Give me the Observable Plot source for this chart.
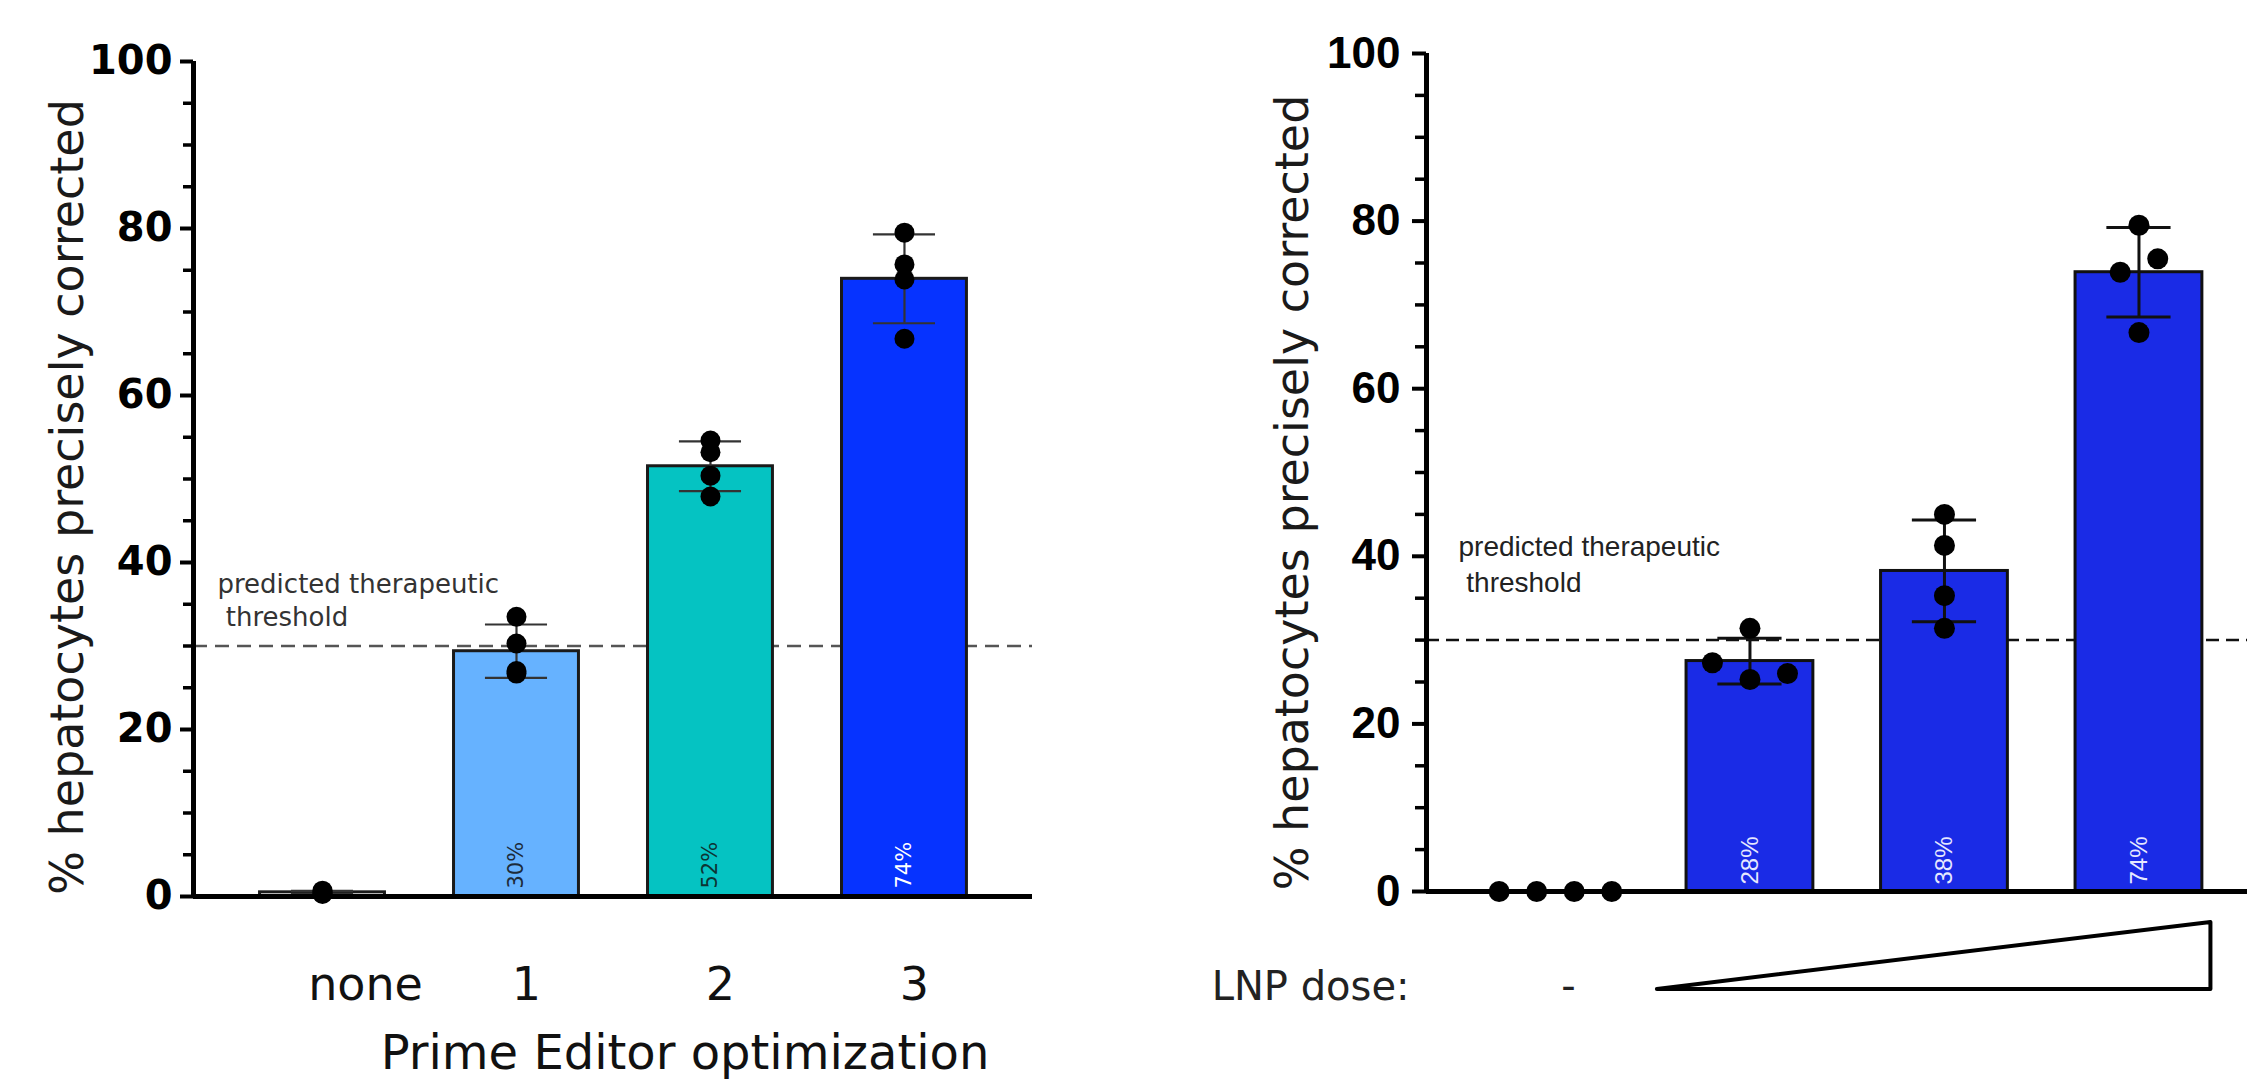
<!DOCTYPE html>
<html><head><meta charset="utf-8">
<script src="https://cdn.jsdelivr.net/npm/d3@7"></script>
<script src="https://cdn.jsdelivr.net/npm/@observablehq/plot@0.6"></script>
<style>
html,body{margin:0;padding:0;background:#fff;}
#wrap{position:relative;width:2247px;height:1079px;overflow:hidden;background:#fff;}
#left{position:absolute;left:0;top:0;}
#right{position:absolute;left:1100px;top:0;}
svg{overflow:visible;}
</style></head><body>
<div id="wrap"><div id="left"></div><div id="right"></div></div>
<script>
// ---------- data ----------
const leftGroups = ["none", "1", "2", "3"];
const leftReplicates = [
  [0.3, 0.6, 0.7, 0.4],
  [33.5, 30.3, 27.0, 26.7],
  [54.6, 53.2, 50.4, 47.9],
  [79.5, 75.7, 73.9, 66.8]
];
const leftBarLabels = [null, "30%", "52%", "74%"];
const leftTitleX = "Prime Editor optimization";

const rightGroups = ["-", "low", "mid", "high"];
const rightReplicates = [
  [0, 0, 0, 0],
  [27.3, 31.4, 25.3, 26.0],
  [45.0, 41.3, 35.3, 31.4],
  [79.5, 73.9, 75.5, 66.7]
];
const rightBarLabels = [null, "28%", "38%", "74%"];
const rightDoseLabel = "LNP dose:";

const yTitle = "% hepatocytes precisely corrected";
const thresholdValue = 30;
const thresholdText = "predicted therapeutic\n\u00a0threshold";
const yMajorTicks = [0, 20, 40, 60, 80, 100];
const yMinorTicks = [5, 10, 15, 25, 30, 35, 45, 50, 55, 65, 70, 75, 85, 90, 95];

// ---------- helpers ----------
function buildRows(groups, reps, labels, fills, labelColors) {
  return groups.map((g, i) => ({
    g, i, vals: reps[i],
    mean: d3.mean(reps[i]),
    sd: d3.deviation(reps[i]) || 0,
    label: labels[i],
    fill: fills[i],
    labelColor: labelColors[i]
  }));
}
function buildDots(rows, spread, spacing, thr) {
  const out = [];
  rows.forEach(r => {
    const offs = r.vals.map(() => 0);
    if (spread) {
      const order = r.vals.map((v, j) => j).sort((a, b) => r.vals[a] - r.vals[b]);
      const clusters = [];
      let cur = [order[0]];
      for (let k = 1; k < order.length; k++) {
        if (r.vals[order[k]] - r.vals[order[k - 1]] < thr) cur.push(order[k]);
        else { clusters.push(cur); cur = [order[k]]; }
      }
      clusters.push(cur);
      clusters.forEach(c => {
        c.sort((a, b) => a - b);
        c.forEach((j, k) => { offs[j] = (k - (c.length - 1) / 2) * spacing; });
      });
    }
    r.vals.forEach((v, j) => out.push({i: r.i, v, off: offs[j]}));
  });
  return out;
}

// ---------- left panel ----------
{
  const rows = buildRows(leftGroups, leftReplicates, leftBarLabels,
    ["#ffffff", "#66b2ff", "#05c3c2", "#0633ff"],
    ["#222", "#1c2b3a", "#0d3434", "#ffffff"]);
  const dots = buildDots(rows, false);
  const xDom = [-0.665, 3.66];
  const hw = 0.322, cw = 0.16;
  const plot = Plot.plot({
    width: 1100, height: 1079,
    marginLeft: 193, marginRight: 68, marginTop: 61, marginBottom: 183,
    x: {domain: xDom, axis: null},
    y: {domain: [0, 100]},
    color: {type: "identity"},
    style: {fontFamily: "DejaVu Sans", background: "white", color: "black"},
    marks: [
      Plot.ruleY([thresholdValue], {stroke: "#555", strokeWidth: 2.5, strokeDasharray: "14,8"}),
      Plot.text([thresholdValue], {y: d => d, frameAnchor: "left", dx: 24, dy: -20, textAnchor: "start", lineAnchor: "bottom",
        text: () => thresholdText, fontSize: 26, fill: "#333", lineHeight: 1.27}),
      Plot.rect(rows, {x1: d => d.i - hw, x2: d => d.i + hw, y1: 0, y2: "mean", fill: "fill", stroke: "#1a1a1a", strokeWidth: 3}),
      Plot.ruleX(rows, {x: "i", y1: d => d.mean - d.sd, y2: d => d.mean + d.sd, stroke: "#333", strokeWidth: 2.2}),
      Plot.ruleY(rows, {y: d => d.mean + d.sd, x1: d => d.i - cw, x2: d => d.i + cw, stroke: "#333", strokeWidth: 2.2}),
      Plot.ruleY(rows, {y: d => d.mean - d.sd, x1: d => d.i - cw, x2: d => d.i + cw, stroke: "#333", strokeWidth: 2.2}),
      Plot.dot(dots, {x: d => d.i + d.off, y: "v", r: 10, fill: "black"}),
      Plot.text(rows.filter(d => d.label), {x: "i", y: 0, text: "label", rotate: -90, textAnchor: "start", dy: -8,
        fill: "labelColor", fontSize: 21}),
      Plot.ruleX([xDom[0]], {strokeWidth: 5, stroke: "black"}),
      Plot.ruleY([0], {strokeWidth: 5, stroke: "black"}),
      Plot.axisY(yMajorTicks, {tickSize: 13, tickPadding: 8, fontSize: 40, fontWeight: "bold", strokeWidth: 4, label: null}),
      Plot.axisY(yMinorTicks, {tickSize: 10, tickFormat: () => "", strokeWidth: 3.5, label: null}),
      Plot.text(rows.filter(d => d.i > 0), {x: "i", text: "g", frameAnchor: "bottom", dy: 103, dx: 10, fontSize: 46, fill: "#111"}),
      Plot.text(rows.filter(d => d.i === 0), {x: "i", text: "g", frameAnchor: "bottom", dy: 103, dx: 43, fontSize: 46, fill: "#111"}),
      Plot.text([leftTitleX], {frameAnchor: "bottom", dy: 172, dx: 72, fontSize: 48, fill: "#111"}),
      Plot.text([yTitle], {frameAnchor: "left", textAnchor: "middle", rotate: -90, dx: -125, dy: 18, fontSize: 46, fill: "#1a1a1a"})
    ]
  });
  document.getElementById("left").appendChild(plot);
}

// ---------- right panel ----------
{
  const rows = buildRows(rightGroups, rightReplicates, rightBarLabels,
    ["#1a2be6", "#1a2be6", "#1a2be6", "#1a2be6"],
    ["#e6e8ff", "#e6e8ff", "#e6e8ff", "#e6e8ff"]);
  const dots = buildDots(rows, true, 0.193, 2.4);
  const xDom = [-0.663, 3.558];
  const hw = 0.326, cw = 0.165;
  const ramp = [{x: 1 - hw - 0.15, y: 0}, {x: 3 + hw + 0.044, y: 8}];
  const plot = Plot.plot({
    width: 1147, height: 1079,
    marginLeft: 326, marginRight: 0, marginTop: 53, marginBottom: 188,
    x: {domain: xDom, axis: null},
    y: {domain: [0, 100]},
    color: {type: "identity"},
    style: {fontFamily: "Liberation Sans", background: "white", color: "black"},
    marks: [
      Plot.ruleY([thresholdValue], {stroke: "#111", strokeWidth: 2.5, strokeDasharray: "13,7"}),
      Plot.text([thresholdValue], {y: d => d, frameAnchor: "left", dx: 32, dy: -48, textAnchor: "start", lineAnchor: "bottom",
        text: () => thresholdText, fontSize: 28, fill: "#222", lineHeight: 1.28}),
      Plot.rect(rows.filter(d => d.mean > 0), {x1: d => d.i - hw, x2: d => d.i + hw, y1: 0, y2: "mean", fill: "fill", stroke: "#111", strokeWidth: 3}),
      Plot.ruleX(rows, {x: "i", y1: d => d.mean - d.sd, y2: d => d.mean + d.sd, stroke: "#111", strokeWidth: 3}),
      Plot.ruleY(rows, {y: d => d.mean + d.sd, x1: d => d.i - cw, x2: d => d.i + cw, stroke: "#111", strokeWidth: 3}),
      Plot.ruleY(rows, {y: d => d.mean - d.sd, x1: d => d.i - cw, x2: d => d.i + cw, stroke: "#111", strokeWidth: 3}),
      Plot.text(rows.filter(d => d.label), {x: "i", y: 0, text: "label", rotate: -90, textAnchor: "start", dy: -7,
        fill: "labelColor", fontSize: 24}),
      Plot.ruleX([xDom[0]], {strokeWidth: 5, stroke: "black"}),
      Plot.ruleY([0], {strokeWidth: 5, stroke: "black"}),
      Plot.dot(dots, {x: d => d.i + d.off, y: "v", r: 10.5, fill: "black"}),
      Plot.axisY(yMajorTicks, {tickSize: 14, tickPadding: 12, fontSize: 44, fontWeight: "bold", strokeWidth: 4, label: null}),
      Plot.axisY(yMinorTicks, {tickSize: 11, tickFormat: () => "", strokeWidth: 3.5, label: null}),
      Plot.text(rows.filter(d => d.i === 0), {x: "i", text: "g", frameAnchor: "bottom", dy: 108, dx: 13, fontSize: 40, fontFamily: "DejaVu Sans", fill: "#222"}),
      Plot.text([rightDoseLabel], {frameAnchor: "bottom-left", textAnchor: "end", dx: -17, dy: 108, fontSize: 40, fontFamily: "DejaVu Sans", fill: "#222"}),
      Plot.areaY(ramp, {x: "x", y1: 0, y2: "y", fill: "white", stroke: "black", strokeWidth: 4, dy: 98}),
      Plot.text([yTitle], {frameAnchor: "left", textAnchor: "middle", rotate: -90, dx: -133, dy: 20, fontSize: 46, fontFamily: "DejaVu Sans", fill: "#1a1a1a"})
    ]
  });
  document.getElementById("right").appendChild(plot);
}
</script>
</body></html>
